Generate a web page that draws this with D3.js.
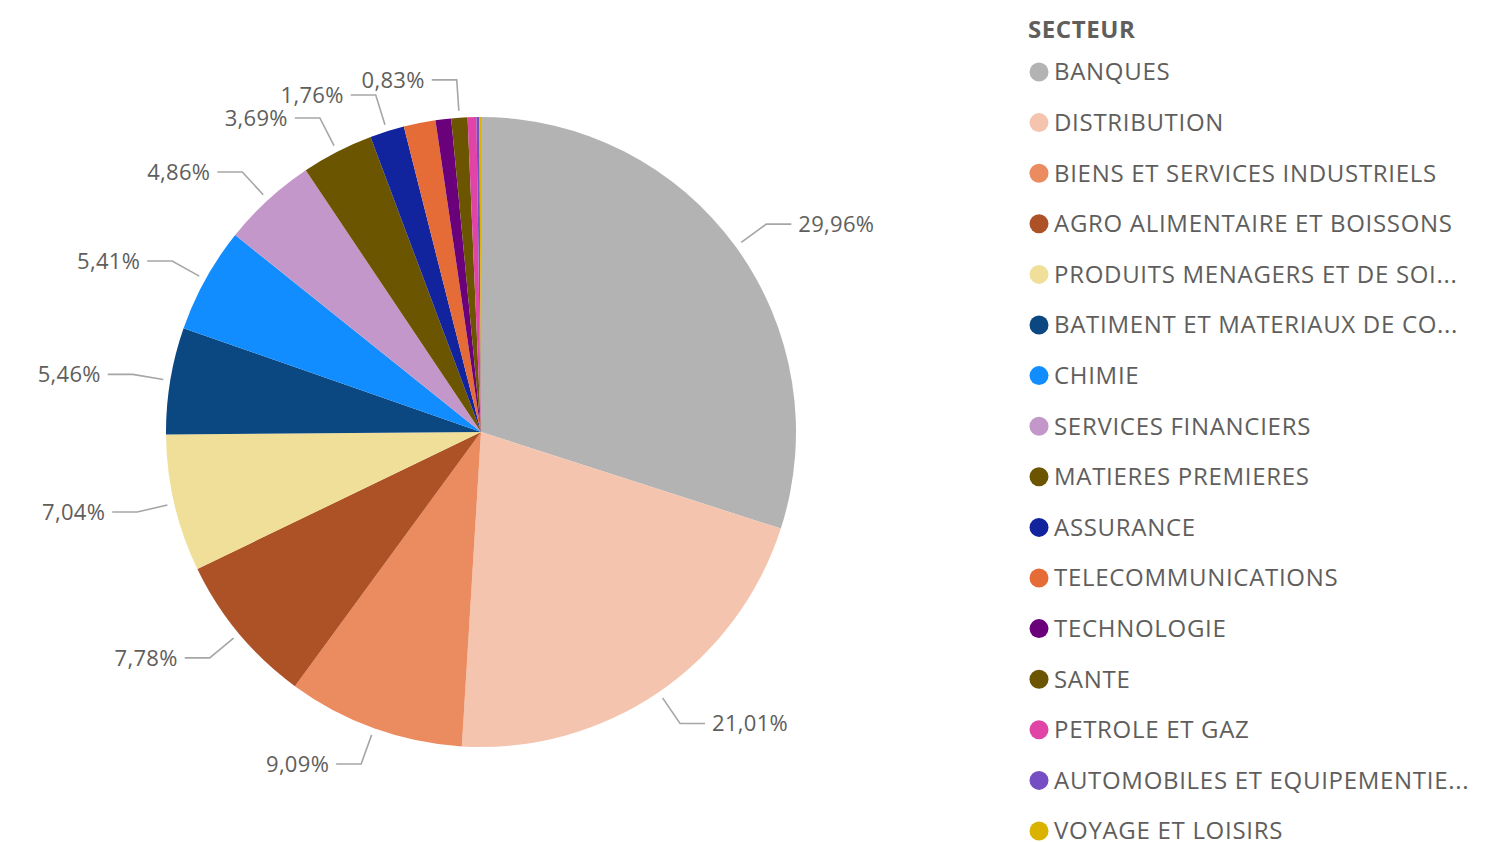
<!DOCTYPE html>
<html>
<head>
<meta charset="utf-8">
<script src="https://cdn.jsdelivr.net/npm/d3@7"></script>
<style>
  body { margin: 0; background: #fff; }
  svg { display: block; font-family: "Open Sans", "Noto Sans", sans-serif; }
</style>
</head>
<body>
<svg id="chart" width="1496" height="842"></svg>
<script>
// sectors, as listed in the legend
var secteurs = [
  "BANQUES", "DISTRIBUTION", "BIENS ET SERVICES INDUSTRIELS",
  "AGRO ALIMENTAIRE ET BOISSONS", "PRODUITS MENAGERS ET DE SOI...",
  "BATIMENT ET MATERIAUX DE CO...", "CHIMIE", "SERVICES FINANCIERS",
  "MATIERES PREMIERES", "ASSURANCE", "TELECOMMUNICATIONS", "TECHNOLOGIE",
  "SANTE", "PETROLE ET GAZ", "AUTOMOBILES ET EQUIPEMENTIE...", "VOYAGE ET LOISIRS"
];
// share in % (small ones)
var parts = [29.96, 21.01, 9.09, 7.78, 7.04, 5.46, 5.41, 4.86, 3.69, 1.76, 1.63, 0.80, 0.83, 0.45, 0.15, 0.08];
// Power BI hides some labels
var showLabel = [1, 1, 1, 1, 1, 1, 1, 1, 1, 1, 0, 0, 1, 0, 0, 0];
var couleurs = [
  "#b3b3b3", "#f4c4ae", "#eb8b60", "#ad5127", "#efdf98", "#0b4780", "#118dff", "#c497ca",
  "#6b5500", "#12239e", "#e66c37", "#6b007b", "#6b5500", "#e044a7", "#744ec2", "#d9b300"
];

var svg = d3.select("#chart");
var cx = 481, cy = 432, r = 315;

var color = d3.scaleOrdinal().domain(secteurs).range(couleurs);

var pie = d3.pie().sort(null).value(function(d){ return d.v; });
var data = secteurs.map(function(s, i){ return {name: s, v: parts[i], show: showLabel[i]}; });
var arcs = pie(data);

var arc = d3.arc().innerRadius(0).outerRadius(r);

var g = svg.append("g").attr("transform", "translate(" + cx + "," + cy + ")");

g.selectAll("path.slice")
  .data(arcs)
  .enter().append("path")
    .attr("class", "slice")
    .attr("d", arc)
    .attr("fill", function(d){ return color(d.data.name); });

var fmt = function(v){ return v.toFixed(2).replace(".", ",") + "%"; };

var lab = g.selectAll("g.lab")
  .data(arcs.filter(function(d){ return d.data.show; }))
  .enter().append("g").attr("class", "lab");

lab.each(function(d){
  var a = (d.startAngle + d.endAngle) / 2;
  var sx = Math.sin(a), sy = -Math.cos(a);
  var p0 = [sx * (r + 7), sy * (r + 7)];
  var p1 = [sx * (r + 38), sy * (r + 38)];
  var right = sx >= 0;
  var p2 = [p1[0] + (right ? 25 : -25), p1[1]];
  var el = d3.select(this);
  el.append("polyline")
    .attr("points", [p0, p1, p2].map(function(p){ return p.join(","); }).join(" "))
    .attr("fill", "none")
    .attr("stroke", "#a6a6a6")
    .attr("stroke-width", 1.6);
  el.append("text")
    .attr("x", p2[0] + (right ? 7 : -7))
    .attr("y", p2[1])
    .attr("dy", "0.35em")
    .attr("text-anchor", right ? "start" : "end")
    .attr("font-size", 22)
    .attr("letter-spacing", 0.3)
    .attr("fill", "#605e5c")
    .text(fmt(d.data.v));
});

// legend
var legend = svg.append("g").attr("transform", "translate(1028,0)");
legend.append("text")
  .attr("x", 0).attr("y", 30).attr("dy", "0.35em")
  .attr("font-size", 24).attr("font-weight", "bold")
  .attr("letter-spacing", 0.6)
  .attr("fill", "#605e5c")
  .text("SECTEUR");

var ly = d3.scalePoint().domain(secteurs).range([72, 831]);

var item = legend.selectAll("g.item")
  .data(secteurs)
  .enter().append("g").attr("class", "item")
  .attr("transform", function(d){ return "translate(0," + ly(d) + ")"; });

item.append("circle")
  .attr("cx", 11).attr("cy", 0).attr("r", 9.5)
  .attr("fill", function(d){ return color(d); });

item.append("text")
  .attr("x", 26).attr("y", 0).attr("dy", "0.35em")
  .attr("font-size", 24)
  .attr("letter-spacing", 0.7)
  .attr("fill", "#605e5c")
  .text(function(d){ return d; });
</script>
</body>
</html>
